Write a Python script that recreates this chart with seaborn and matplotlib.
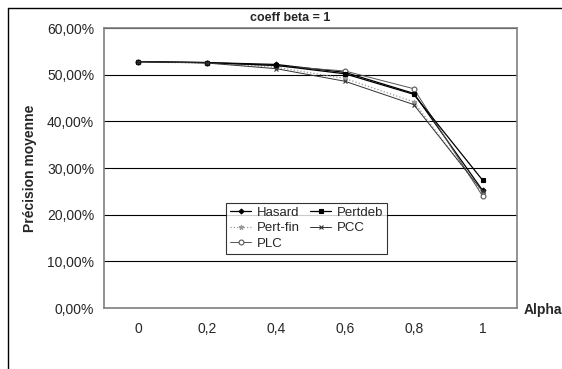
import matplotlib
matplotlib.use("Agg")
import matplotlib.pyplot as plt
import pandas as pd
import seaborn as sns
from matplotlib.lines import Line2D
from matplotlib.ticker import FuncFormatter, FixedLocator

# Data (precision in %)
alpha = [0, 0.2, 0.4, 0.6, 0.8, 1]
alpha_labels = ["0", "0,2", "0,4", "0,6", "0,8", "1"]
hasard = [52.8, 52.6, 52.2, 50.5, 46.0, 25.2]
pertdeb = [52.8, 52.6, 52.0, 50.2, 45.8, 27.4]
pert_fin = [52.7, 52.5, 51.6, 49.2, 44.2, 24.6]
pcc = [52.8, 52.5, 51.3, 48.6, 43.6, 25.0]
plc = [52.8, 52.6, 51.9, 50.8, 47.0, 24.0]

series = {"Hasard": hasard, "Pertdeb": pertdeb, "Pert-fin": pert_fin,
          "PCC": pcc, "PLC": plc}
df = pd.DataFrame([(a, name, v) for name, vals in series.items()
                   for a, v in zip(alpha, vals)],
                  columns=["alpha", "serie", "precision"])

sns.set_theme(style="white")
plt.rcParams["font.family"] = ["Liberation Sans", "DejaVu Sans"]

fig = plt.figure(figsize=(5.62, 3.69), dpi=100)
ax = fig.add_axes([0.185, 0.165, 0.735, 0.759])

styles = {
    "Hasard":   dict(color="black", marker="D", markersize=2.5, linestyle="-", linewidth=0.9),
    "Pertdeb":  dict(color="black", marker="s", markersize=3, linestyle="-", linewidth=0.9),
    "Pert-fin": dict(color="#999999", marker="*", markersize=3.5, linestyle=":", linewidth=0.9),
    "PCC":      dict(color="#333333", marker="x", markersize=3.5, linestyle="-", linewidth=0.7),
    "PLC":      dict(color="#555555", marker="o", markersize=3.5, linestyle="-", linewidth=0.7,
                     markerfacecolor="white"),
}
for name in ["Hasard", "Pert-fin", "PLC", "Pertdeb", "PCC"]:
    sns.lineplot(data=df[df["serie"] == name], x="alpha", y="precision", ax=ax,
                 label=name, markeredgecolor=styles[name]["color"],
                 markeredgewidth=0.8, **styles[name])

ax.set_xlim(-0.1, 1.1)
ax.set_ylim(0, 60)
ax.yaxis.set_major_locator(FixedLocator([0, 10, 20, 30, 40, 50, 60]))
ax.yaxis.set_major_formatter(FuncFormatter(lambda v, p: f"{v:.2f}%".replace(".", ",")))
ax.grid(axis="y", color="black", linewidth=0.8)
ax.set_axisbelow(True)

# category boundaries as tick marks, labels in the middle
ax.xaxis.set_major_locator(FixedLocator([0.1, 0.3, 0.5, 0.7, 0.9]))
ax.xaxis.set_major_formatter(FuncFormatter(lambda v, p: ""))
ax.set_xticks(alpha, alpha_labels, minor=True)
ax.tick_params(axis="x", which="major", length=4, color="#808080", direction="out")
ax.tick_params(axis="x", which="minor", length=0, pad=10, labelsize=10)
ax.tick_params(axis="y", length=4, color="#505050", direction="out", labelsize=10, pad=3)
for s in ax.spines.values():
    s.set_color("#808080")
    s.set_linewidth(1.2)

ax.set_xlabel("")
ax.set_ylabel("Précision moyenne", fontweight="bold", fontsize=10, labelpad=7)
ax.set_title("coeff beta = 1", fontweight="bold", fontsize=9, pad=5, x=0.45)
fig.text(0.932, 0.16, "Alpha", fontweight="bold", fontsize=10, ha="left", va="center")

leg = ax.legend(ncol=2, loc="lower left", bbox_to_anchor=(0.28, 0.17),
                frameon=True, fancybox=False, edgecolor="black", fontsize=9.5,
                handlelength=1.6, handletextpad=0.4, columnspacing=0.8,
                borderpad=0.3, labelspacing=0.25)
leg.get_frame().set_linewidth(0.8)

# outer chart frame (left and top)
fig.add_artist(Line2D([0.015, 0.015], [0.0, 0.978], color="black", linewidth=1.0))
fig.add_artist(Line2D([0.015, 1.0], [0.978, 0.978], color="black", linewidth=1.0))

fig.savefig("out.png", dpi=100)
